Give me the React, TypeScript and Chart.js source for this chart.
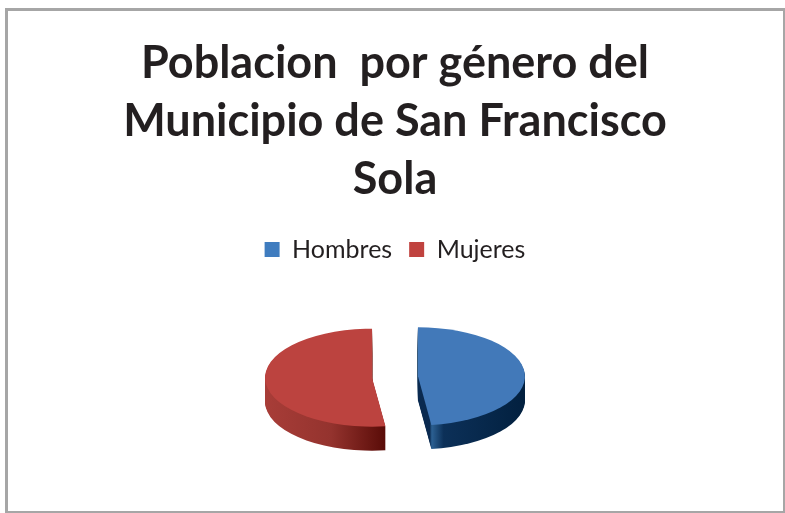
import React, { useEffect, useRef } from "react";
import { Chart, registerables } from "chart.js";

Chart.register(...registerables);

const categories = ["Hombres", "Mujeres"];
const shares = [48, 52];
const titleLines = ["Poblacion  por género del", "Municipio de San Francisco", "Sola"];
const faceColors = ["#4279b9", "#bc433f"];
const legendColors = ["#3f7cbf", "#c0433f"];
const sideStops: [number, string][][] = [
  [[0, "#0a2a50"], [0.11, "#0a2a50"], [0.13, "#2c6092"], [0.24, "#0c3058"], [1, "#02203f"]],
  [[0, "#a83d38"], [0.55, "#94332e"], [1, "#5a0c08"]],
];
const labelAnchors = [
  { dx: 26, dy: -22 },
  { dx: -64, dy: -1 },
];

const EXPLODE = 23;
const SQUASH = 0.458;
const DEPTH = 24;
const INK = "#231f20";

const pie3d = {
  id: "pie3d",
  beforeDatasetsDraw(chart: any) {
    const ctx = chart.ctx;
    const arcs = chart.getDatasetMeta(0).data;
    arcs.forEach((arc: any, i: number) => {
      const mid = (arc.startAngle + arc.endAngle) / 2;
      const ox = Math.cos(mid) * EXPLODE;
      const oy = Math.sin(mid) * EXPLODE;
      const left = i === 0 ? arc.x : arc.x - arc.outerRadius;
      const width = i === 0 ? arc.outerRadius : arc.outerRadius + 13;
      const grad = ctx.createLinearGradient(left, 0, left + width, 0);
      sideStops[i].forEach(([p, c]) => grad.addColorStop(p, c));
      const saved = arc.options;
      const drawAt = (lift: number, fill: any) => {
        ctx.save();
        ctx.translate(arc.x, arc.y + lift);
        ctx.scale(1, SQUASH);
        ctx.translate(-arc.x + ox, -arc.y + oy);
        arc.options = { ...saved, backgroundColor: fill, borderWidth: 0, offset: 0 };
        arc.draw(ctx);
        ctx.restore();
      };
      for (let d = DEPTH; d >= 1; d--) drawAt(d, grad);
      drawAt(0, faceColors[i]);
      arc.options = saved;
    });
    return false;
  },
  afterDatasetsDraw(chart: any) {
    const ctx = chart.ctx;
    const arcs = chart.getDatasetMeta(0).data;
    ctx.save();
    ctx.font = "25px Lato";
    ctx.fillStyle = INK;
    ctx.textAlign = "center";
    ctx.textBaseline = "middle";
    arcs.forEach((arc: any, i: number) => {
      const mid = (arc.startAngle + arc.endAngle) / 2;
      ctx.fillText(
        `${shares[i]}%`,
        arc.x + Math.cos(mid) * EXPLODE + labelAnchors[i].dx,
        arc.y + Math.sin(mid) * EXPLODE * SQUASH + labelAnchors[i].dy
      );
    });
    ctx.restore();
  },
};

export default function App() {
  const ref = useRef<HTMLCanvasElement>(null);
  useEffect(() => {
    const chart = new Chart(ref.current as HTMLCanvasElement, {
      type: "pie",
      data: {
        labels: categories,
        datasets: [{ data: shares, backgroundColor: legendColors, borderWidth: 0 }],
      },
      options: {
        animation: false,
        responsive: false,
        radius: 107,
        layout: { padding: { left: 5, top: 34, bottom: 31 } },
        plugins: {
          tooltip: { enabled: false },
          title: {
            display: true,
            text: titleLines,
            color: INK,
            font: { family: "Lato", weight: "bold", size: 45, lineHeight: 58 / 45 },
            padding: { top: 0, bottom: 12 },
          },
          legend: {
            position: "top",
            labels: {
              color: INK,
              boxWidth: 15,
              boxHeight: 15,
              padding: 17,
              font: { family: "Lato", size: 25 },
            },
          },
        },
      } as any,
      plugins: [pie3d],
    });
    return () => chart.destroy();
  }, []);
  return (
    <div style={{ position: "fixed", left: 0, top: 0, width: 785, height: 513, background: "#fff", overflow: "hidden" }}>
      <canvas ref={ref} width={785} height={513} style={{ position: "absolute", left: 0, top: 0 }} />
      <div
        style={{
          position: "absolute",
          left: 5,
          top: 8,
          width: 775,
          height: 500,
          border: "3px solid #a6a6a6",
          boxSizing: "content-box",
          pointerEvents: "none",
        }}
      />
    </div>
  );
}
